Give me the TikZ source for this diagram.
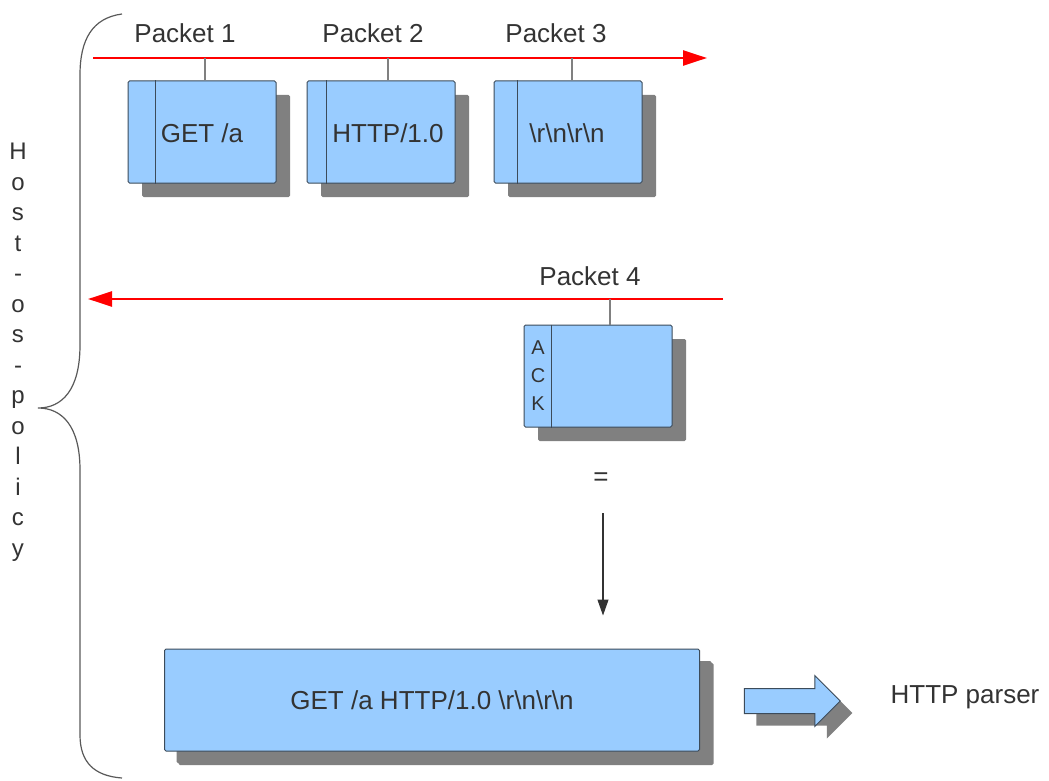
\documentclass[tikz,border=0pt]{standalone}
\usepackage{fontspec}
\setmainfont{Liberation Sans}
\usepackage{tikz}
\usetikzlibrary{arrows.meta, positioning, shapes.arrows, shadows}

\definecolor{boxblue}{HTML}{99CCFF}
\definecolor{boxline}{HTML}{3C4B5A}
\definecolor{textgray}{HTML}{333333}

\tikzset{
  lbl/.style={text=textgray, font=\fontsize{26}{30}\selectfont, inner sep=0pt},
  pktbox/.style={draw=boxline, fill=boxblue, line width=1pt, rounded corners=1.5pt,
    minimum width=148pt, minimum height=102pt, inner sep=0pt,
    drop shadow={shadow xshift=14pt, shadow yshift=-14pt, fill=black!50, opacity=1}},
  divider/.style={draw=boxline, line width=1pt},
  redline/.style={draw=red, line width=2.5pt, -{Triangle[length=24pt, width=15pt]}},
  stem/.style={draw=gray, line width=1.5pt},
  downarrow/.style={draw=textgray, line width=1.2pt, -{Triangle[length=16pt, width=11pt]}},
}

\begin{document}
\begin{tikzpicture}[x=1pt, y=-1pt]
  \useasboundingbox (0,0) rectangle (1049,781);

  % host-os-policy brace
  \draw[gray!70!black, line width=1.2pt] (122,14) .. controls (92,18) and (80,40) .. (80,75)
    -- (80,345) .. controls (80,390) and (62,408) .. (38,408)
    .. controls (62,408) and (80,426) .. (80,470)
    -- (80,735) .. controls (80,762) and (94,776) .. (122,778);
  \node[lbl, align=center, font=\fontsize{24}{30.5}\selectfont] (policy) at (18,352)
    {H\\o\\s\\t\\-\\o\\s\\-\\p\\o\\l\\i\\c\\y};

  % request packets
  \coordinate (sendA) at (93,58);
  \coordinate (sendB) at (707,58);
  \draw[redline] (sendA) -- (sendB);
  \foreach \i/\lx/\bx/\tx/\dv/\sx/\t in {1/185/202/202/28/3/{GET /a},
      2/373/381/388/20/7/{HTTP/1.0},
      3/556/568/567/24/4/{\textbackslash r\textbackslash n\textbackslash r\textbackslash n}} {
    \node[lbl] (lbl\i) at (\lx,33) {Packet \i};
    \node[pktbox] (pkt\i) at (\bx,132) {};
    \draw[divider] ([xshift=\dv pt]pkt\i.north west) -- ([xshift=\dv pt]pkt\i.south west);
    \node[lbl] (txt\i) at (\tx,133) {\t};
    \draw[stem] ([xshift=\sx pt]pkt\i.north) -- ([xshift=\sx pt]pkt\i.north |- sendA);
  }

  % ack packet
  \coordinate (ackA) at (723,299);
  \coordinate (ackB) at (88,299);
  \draw[redline] (ackA) -- (ackB);
  \node[lbl] (lbl4) at (590,276) {Packet 4};
  \node[pktbox] (pkt4) at (598,376) {};
  \draw[divider] ([xshift=28pt]pkt4.north west) -- ([xshift=28pt]pkt4.south west);
  \node[lbl, align=center, font=\fontsize{20}{28}\selectfont] (ack) at (538,376) {A\\C\\K};
  \draw[stem] ([xshift=12pt]pkt4.north) -- ([xshift=12pt]pkt4.north |- ackA);

  % reassembled request
  \node[lbl] (eq) at (601,479) {=};
  \node[pktbox, minimum width=535pt, text=textgray, font=\fontsize{26}{30}\selectfont,
    drop shadow={shadow xshift=12pt, shadow yshift=-12pt, fill=black!50, opacity=1}]
    (whole) at (432,700) {GET /a HTTP/1.0 \textbackslash r\textbackslash n\textbackslash r\textbackslash n};
  \draw[downarrow, shorten <=34pt, shorten >=33pt] (eq.center -| 603,0) -- (whole.north -| 603,0);

  % to parser
  \node[single arrow, draw=boxline, fill=boxblue, line width=1pt, inner sep=0pt,
    minimum width=50pt, minimum height=96pt, single arrow head extend=13pt,
    drop shadow={shadow xshift=12pt, shadow yshift=-12pt, fill=black!50, opacity=1}]
    (toparser) at (786,701) {\rule{0pt}{24pt}};
  \node[lbl] (parser) at (965,697) {HTTP parser};
\end{tikzpicture}
\end{document}
